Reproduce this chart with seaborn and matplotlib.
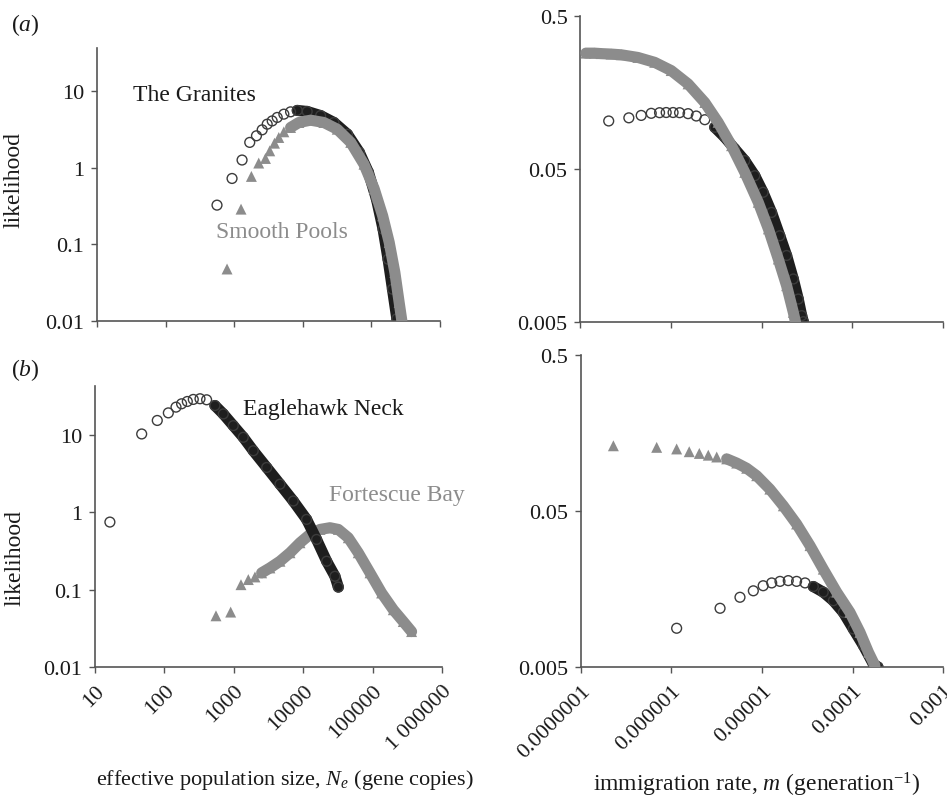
"""Likelihood profiles of Ne and m for two pairs of sites (panels a and b)."""

import matplotlib

matplotlib.use("Agg")

import matplotlib.pyplot as plt
import pandas as pd
import seaborn as sns

# ---- (a) The Granites / Smooth Pools: effective population size ----
granites_ne = [562, 931, 1303, 1686, 2113, 2558, 3030, 3580, 4240, 5300, 6640, 8310,
               11600, 18200, 28500, 44700, 67000, 90600, 118500, 148000, 175000, 203000, 235000]
granites_ne_lik = [0.325, 0.724, 1.26, 2.14, 2.61, 3.12, 3.70, 4.08, 4.53, 5.0, 5.36, 5.59,
                   5.42, 4.79, 3.89, 2.74, 1.58, 0.87, 0.39, 0.158, 0.064, 0.026, 0.0107]

smooth_ne = [787, 1259, 1782, 2280, 2858, 3300, 3870, 4470, 5300, 6640, 8770, 13000,
             20300, 31800, 50000, 78000, 110000, 146000, 182000, 220000, 254000, 278000]
smooth_ne_lik = [0.0477, 0.288, 0.77, 1.15, 1.32, 1.66, 2.09, 2.48, 2.94, 3.35, 3.89, 4.17,
                 3.89, 3.18, 2.14, 1.11, 0.53, 0.236, 0.106, 0.043, 0.0175, 0.0101]

# ---- (a) immigration rate ----
granites_m = [2.07e-7, 3.45e-7, 4.72e-7, 6.09e-7, 7.52e-7, 8.9e-7, 1.06e-6, 1.25e-6, 1.55e-6,
              1.91e-6, 2.37e-6, 3.05e-6, 3.94e-6, 5.07e-6, 6.54e-6, 8.43e-6, 1.04e-5, 1.29e-5,
              1.59e-5, 1.89e-5, 2.24e-5, 2.54e-5, 2.77e-5, 2.89e-5]
granites_m_lik = [0.103, 0.108, 0.112, 0.1156, 0.1167, 0.117, 0.117, 0.1167, 0.115,
                  0.111, 0.105, 0.0937, 0.0806, 0.0676, 0.0567, 0.0452, 0.0352, 0.026,
                  0.0183, 0.0136, 0.00955, 0.00706, 0.0055, 0.00502]

smooth_m = [1.16e-7, 1.44e-7, 1.71e-7, 2.2e-7, 2.84e-7, 4.34e-7, 6.64e-7, 1.01e-6, 1.55e-6,
            2.37e-6, 3.32e-6, 4.67e-6, 6.54e-6, 9.2e-6, 1.19e-5, 1.53e-5, 1.89e-5, 2.24e-5, 2.37e-5]
smooth_m_lik = [0.286, 0.286, 0.284, 0.282, 0.279, 0.268, 0.249, 0.22, 0.18,
                0.136, 0.101, 0.071, 0.0475, 0.0303, 0.0203, 0.0129, 0.00863, 0.00578, 0.00498]

# ---- (b) Eaglehawk Neck / Fortescue Bay: effective population size ----
eaglehawk_ne = [16.4, 47.1, 79, 114, 147, 177, 214, 261, 326, 406, 535, 706, 984, 1371,
                1910, 2980, 4630, 7200, 11200, 15600, 21800, 28700, 32100]
eaglehawk_ne_lik = [0.748, 10.3, 15.4, 19.3, 22.9, 25.3, 27.1, 28.8, 29.4, 28.5, 24.0, 18.7,
                    13.2, 9.33, 6.25, 3.8, 2.31, 1.4, 0.81, 0.446, 0.233, 0.149, 0.108]

fortescue_ne = [554, 902, 1270, 1620, 2020, 2520, 3320, 4630, 6460, 9000, 12500, 17500,
                24300, 32100, 44700, 62200, 91800, 135000, 199000, 277000, 365000]
fortescue_ne_lik = [0.0459, 0.0513, 0.116, 0.135, 0.146, 0.165, 0.191, 0.233, 0.3, 0.404,
                    0.518, 0.601, 0.632, 0.601, 0.469, 0.3, 0.165, 0.0906, 0.055, 0.0387, 0.0287]

# ---- (b) immigration rate ----
eaglehawk_m = [1.14e-6, 3.44e-6, 5.71e-6, 8.02e-6, 1.03e-5, 1.28e-5, 1.58e-5, 1.95e-5,
               2.41e-5, 2.99e-5, 3.69e-5, 4.75e-5, 6.14e-5, 7.91e-5, 1.02e-4, 1.32e-4,
               1.7e-4, 1.91e-4]
eaglehawk_m_lik = [0.00886, 0.0119, 0.014, 0.0154, 0.0166, 0.0173, 0.0177, 0.0179,
                   0.0177, 0.0173, 0.0164, 0.0151, 0.0133, 0.0112, 0.00877, 0.00686,
                   0.00522, 0.005]

fortescue_m = [2.28e-7, 6.86e-7, 1.14e-6, 1.57e-6, 2.03e-6, 2.55e-6, 3.16e-6, 4.07e-6,
               5.25e-6, 6.77e-6, 8.73e-6, 1.22e-5, 1.72e-5, 2.41e-5, 3.39e-5, 4.75e-5,
               6.68e-5, 9.37e-5, 1.21e-4, 1.5e-4, 1.77e-4]
fortescue_m_lik = [0.131, 0.128, 0.125, 0.12, 0.117, 0.114, 0.111, 0.108, 0.1015, 0.094,
                   0.0842, 0.0691, 0.054, 0.0413, 0.03, 0.0212, 0.0151, 0.0112, 0.00834,
                   0.00621, 0.0051]

ne_ticks = [10, 100, 1000, 10000, 100000, 1000000]
ne_tick_labels = ["10", "100", "1000", "10000", "100000", "1 000000"]
m_ticks = [1e-7, 1e-6, 1e-5, 1e-4, 1e-3]
m_tick_labels = ["0.0000001", "0.000001", "0.00001", "0.0001", "0.001"]
lik_ticks_ne = [0.01, 0.1, 1, 10]
lik_tick_labels_ne = ["0.01", "0.1", "1", "10"]
lik_ticks_m = [0.005, 0.05, 0.5]
lik_tick_labels_m = ["0.005", "0.05", "0.5"]

BLACK = "#1e1e1e"
CIRCLE = "#3c3c3c"
GREY = "#8c8c8c"
AXIS = "#555555"
TEXT = "#1a1a1a"

sns.set_theme(style="white")
plt.rcParams["font.family"] = ["Liberation Serif", "DejaVu Serif"]
plt.rcParams["mathtext.fontset"] = "custom"
plt.rcParams["mathtext.rm"] = "Liberation Serif"
plt.rcParams["mathtext.it"] = "Liberation Serif:italic"


def draw_series(ax, x, y, band_from, kind, z):
    df = pd.DataFrame({"x": x, "y": y})
    color = GREY if kind == "tri" else BLACK
    sns.lineplot(data=df.iloc[band_from:], x="x", y="y", ax=ax, color=color, lw=8,
                 estimator=None, sort=False, legend=False, zorder=z,
                 solid_capstyle="round", solid_joinstyle="round")
    if kind == "tri":
        sns.scatterplot(data=df, x="x", y="y", ax=ax, marker="^", s=62, color=GREY,
                        edgecolor="none", linewidth=0, legend=False, zorder=z + 0.5)
    else:
        sns.scatterplot(data=df, x="x", y="y", ax=ax, marker="o", s=50, color=CIRCLE,
                        facecolor="none", edgecolor=CIRCLE, linewidth=1.0,
                        legend=False, zorder=z + 0.5)


def style_axes(ax, xticks, xlabels, xlim, yticks, ylabels, ylim, show_xlabels):
    ax.set_xlim(*xlim)
    ax.set_ylim(*ylim)
    ax.set_xticks(xticks)
    if show_xlabels:
        ax.set_xticklabels(xlabels, rotation=45, ha="right", va="top",
                           rotation_mode="anchor")
    else:
        ax.set_xticklabels([])
    ax.set_yticks(yticks)
    ax.set_yticklabels(ylabels)
    ax.minorticks_off()
    ax.set_xlabel("")
    ax.set_ylabel("")
    for side in ("top", "right"):
        ax.spines[side].set_visible(False)
    for side in ("left", "bottom"):
        ax.spines[side].set_color(AXIS)
        ax.spines[side].set_linewidth(1.2)
    ax.tick_params(axis="both", which="major", direction="out", length=4, width=1,
                   color=AXIS, labelsize=16, labelcolor=TEXT, pad=5,
                   bottom=True, left=True)
    ax.tick_params(axis="x", pad=6)
    ax.patch.set_alpha(0)


fig = plt.figure(figsize=(9.47, 8.03), dpi=100)
ax_a1 = fig.add_axes([0.1024, 0.599, 0.3622, 0.340])
ax_a2 = fig.add_axes([0.6125, 0.5978, 0.3833, 0.381])
ax_b1 = fig.add_axes([0.1003, 0.1681, 0.3664, 0.350])
ax_b2 = fig.add_axes([0.6135, 0.1681, 0.3823, 0.3885])

for ax in (ax_a1, ax_a2, ax_b1, ax_b2):
    ax.set_xscale("log")
    ax.set_yscale("log")

# (a) Ne
draw_series(ax_a1, granites_ne, granites_ne_lik, 11, "circ", 2)
draw_series(ax_a1, smooth_ne, smooth_ne_lik, 9, "tri", 3)
# (a) m
draw_series(ax_a2, granites_m, granites_m_lik, 11, "circ", 2)
draw_series(ax_a2, smooth_m, smooth_m_lik, 0, "tri", 3)
# (b) Ne
draw_series(ax_b1, fortescue_ne, fortescue_ne_lik, 5, "tri", 2)
draw_series(ax_b1, eaglehawk_ne, eaglehawk_ne_lik, 10, "circ", 3)
# (b) m
draw_series(ax_b2, eaglehawk_m, eaglehawk_m_lik, 10, "circ", 2)
draw_series(ax_b2, fortescue_m, fortescue_m_lik, 7, "tri", 3)

style_axes(ax_a1, ne_ticks, ne_tick_labels, (10, 1e6), lik_ticks_ne, lik_tick_labels_ne,
           (0.01, 36.5), False)
style_axes(ax_b1, ne_ticks, ne_tick_labels, (10, 1e6), lik_ticks_ne, lik_tick_labels_ne,
           (0.01, 43), True)
style_axes(ax_a2, m_ticks, m_tick_labels, (1e-7, 1e-3), lik_ticks_m, lik_tick_labels_m,
           (0.005, 0.5), False)
style_axes(ax_b2, m_ticks, m_tick_labels, (1e-7, 1e-3), lik_ticks_m, lik_tick_labels_m,
           (0.005, 0.5), True)

ax_a1.set_ylabel("likelihood", fontsize=17, color=TEXT)
ax_a1.yaxis.set_label_coords(-0.21, 0.52)
ax_b1.set_ylabel("likelihood", fontsize=17, color=TEXT)
ax_b1.yaxis.set_label_coords(-0.20, 0.39)

ax_a1.text(34, 9.1, "The Granites", fontsize=17, color=TEXT, va="center", ha="left")
ax_a1.text(550, 0.149, "Smooth Pools", fontsize=17, color=GREY, va="center", ha="left")
ax_b1.text(1358, 21.8, "Eaglehawk Neck", fontsize=17, color=TEXT, va="center", ha="left")
ax_b1.text(23500, 1.71, "Fortescue Bay", fontsize=17, color=GREY, va="center", ha="left",
           clip_on=False)

fig.text(25 / 947, 1 - 25 / 803, "($a$)", fontsize=17, color=TEXT, ha="center", va="center")
fig.text(25 / 947, 1 - 370 / 803, "($b$)", fontsize=17, color=TEXT, ha="center", va="center")

fig.text(285 / 947, 1 - 780 / 803, "effective population size, $N_e$ (gene copies)",
         fontsize=16, color=TEXT, ha="center", va="center")
fig.text(757 / 947, 1 - 785 / 803, "immigration rate, $m$ (generation$^{-1}$)",
         fontsize=17, color=TEXT, ha="center", va="center")

fig.savefig("out.png", dpi=100)
plt.close(fig)
